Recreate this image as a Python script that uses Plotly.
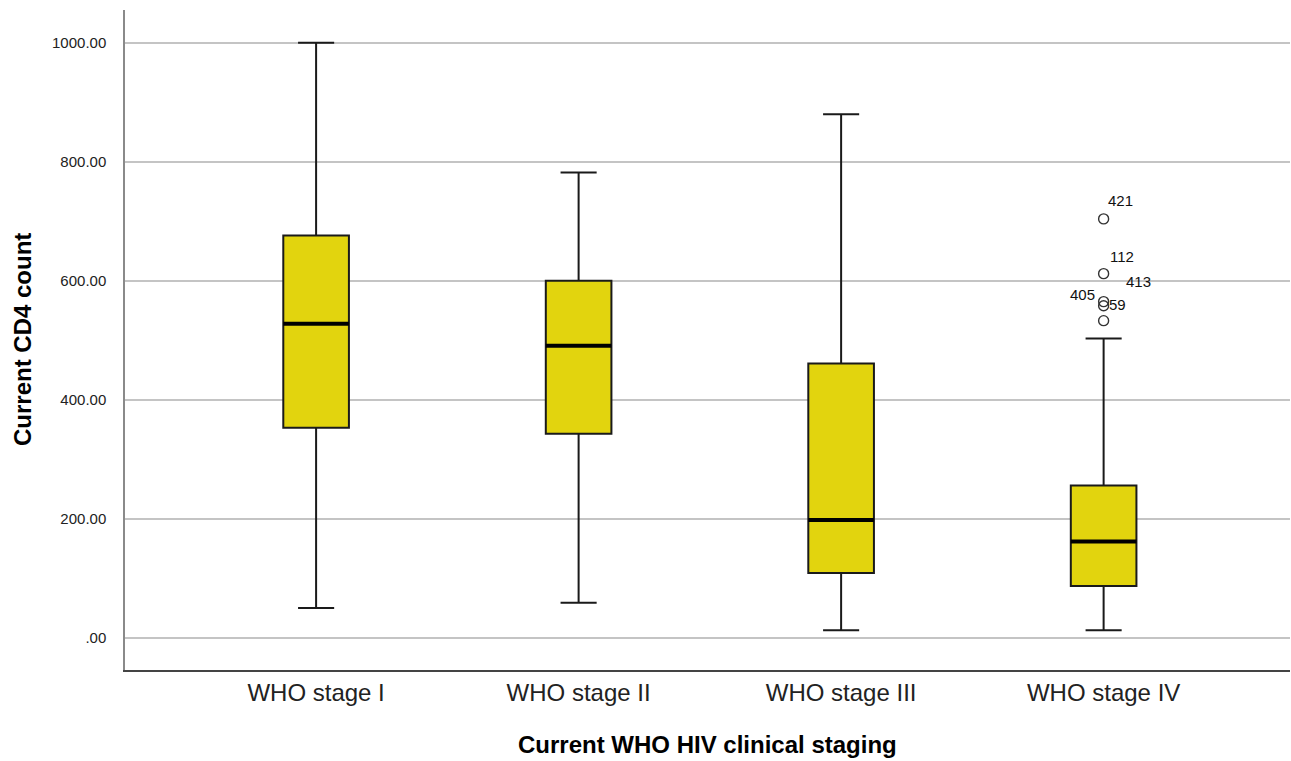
import plotly.graph_objects as go

# ---- data ----
categories = ["WHO stage I", "WHO stage II", "WHO stage III", "WHO stage IV"]
q1_values = [353, 343, 109, 87]
median_values = [528, 491, 198, 162]
q3_values = [676, 600, 461, 256]
lower_whisker = [50, 59, 13, 13]
upper_whisker = [1000, 782, 880, 503]

outlier_category = [3, 3, 3, 3, 3]
outlier_values = [704, 612, 565, 558, 533]
outlier_ids = ["421", "112", "413", "405", "59"]

y_tick_values = [0, 200, 400, 600, 800, 1000]
y_tick_labels = [".00", "200.00", "400.00", "600.00", "800.00", "1000.00"]

# ---- styling ----
FONT = "Liberation Sans, Arial, sans-serif"
BOX_FILL = "#E2D40E"
BOX_HALF = 0.125
label_shift = {"421": (17, 18), "112": (18, 17), "413": (35, 20),
               "405": (-21, 11), "59": (14, 16)}

positions = list(range(len(categories)))

fig = go.Figure()

fig.add_trace(go.Box(
    x=positions,
    q1=q1_values,
    median=median_values,
    q3=q3_values,
    lowerfence=lower_whisker,
    upperfence=upper_whisker,
    width=2 * BOX_HALF,
    whiskerwidth=0.55,
    fillcolor=BOX_FILL,
    line=dict(color="#1a1a1a", width=2),
    boxpoints=False,
    showlegend=False,
    hoverinfo="skip",
))

# thick median lines
for p, m in zip(positions, median_values):
    fig.add_trace(go.Scatter(
        x=[p - BOX_HALF, p + BOX_HALF], y=[m, m],
        mode="lines", line=dict(color="black", width=4),
        showlegend=False, hoverinfo="skip",
    ))

# outliers
fig.add_trace(go.Scatter(
    x=outlier_category, y=outlier_values, mode="markers",
    marker=dict(symbol="circle-open", size=10, color="#333333",
                line=dict(width=1.4, color="#333333")),
    showlegend=False, hoverinfo="skip",
))

annotations = []
for cx, v, lab in zip(outlier_category, outlier_values, outlier_ids):
    dx, dy = label_shift[lab]
    annotations.append(dict(
        x=cx, y=v, xref="x", yref="y", text=lab, showarrow=False,
        xshift=dx, yshift=dy, font=dict(family=FONT, size=15, color="#111111"),
    ))

# axis titles
annotations.append(dict(
    x=0.5, y=-0.113, xref="paper", yref="paper", xanchor="center", yanchor="middle",
    text="<b>Current WHO HIV clinical staging</b>", showarrow=False,
    font=dict(family=FONT, size=24, color="black"),
))
annotations.append(dict(
    x=-0.0884, y=0.5, xref="paper", yref="paper", xanchor="center", yanchor="middle",
    text="<b>Current CD4 count</b>", showarrow=False, textangle=-90,
    font=dict(family=FONT, size=24, color="black"),
))

fig.update_layout(
    width=1291, height=761,
    margin=dict(l=125, r=1, t=10, b=91),
    paper_bgcolor="white", plot_bgcolor="white",
    annotations=annotations,
    showlegend=False,
)

fig.update_xaxes(
    range=[-0.728, 3.71],
    tickvals=positions, ticktext=categories,
    showgrid=False, zeroline=False,
    showline=True, linecolor="#444444", linewidth=1.5,
    ticks="", ticklabelstandoff=0,
    tickfont=dict(family=FONT, size=24, color="#222222"),
)
fig.update_yaxes(
    range=[-54, 1055],
    tickvals=y_tick_values, ticktext=y_tick_labels,
    showgrid=True, gridcolor="#c4c4c4", gridwidth=1.6,
    zeroline=False,
    showline=True, linecolor="#8a8a8a", linewidth=1.5,
    ticks="", ticklabelstandoff=14,
    tickfont=dict(family=FONT, size=15, color="#222222"),
)

fig.write_html(
    "out.html",
    config={"displayModeBar": False},
    post_script="document.body.style.margin='0px';document.body.style.overflow='hidden';",
)
